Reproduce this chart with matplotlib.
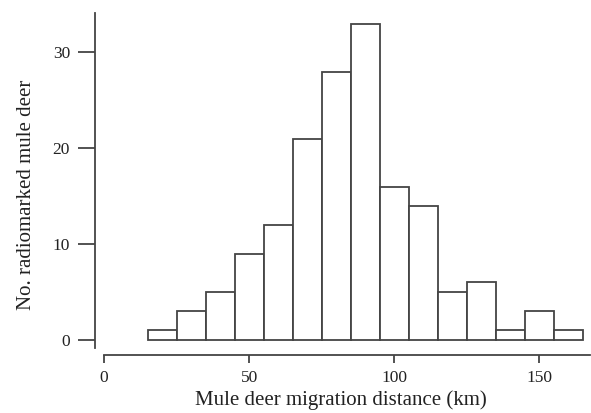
import numpy as np
import matplotlib.pyplot as plt

# histogram of migration distance, 10 km bins
bin_edges = [15, 25, 35, 45, 55, 65, 75, 85, 95, 105, 115, 125, 135, 145, 155, 165]
counts = [1, 3, 5, 9, 12, 21, 28, 33, 16, 14, 5, 6, 1, 3, 1]
x_ticks = [0, 50, 100, 150]
y_ticks = [0, 10, 20, 30]

plt.rcParams['font.family'] = ['Liberation Serif', 'DejaVu Serif']
line_col = '#444444'

fig = plt.figure(figsize=(5.91, 4.13), dpi=100)
W, H = 591, 413
ax = fig.add_axes([104 / W, 1 - 348 / H, (590 - 104) / W, (348 - 13) / H])

widths = np.diff(bin_edges)
ax.bar(bin_edges[:-1], counts, width=widths, align='edge', facecolor='white',
       edgecolor=line_col, linewidth=1.3)

ax.set_xlim(0, 167.5)
ax.set_ylim(-0.83, 34.1)
ax.set_xticks(x_ticks)
ax.set_yticks(y_ticks)

for s in ['top', 'right']:
    ax.spines[s].set_visible(False)
ax.spines['bottom'].set_position(('outward', 5))
ax.spines['left'].set_position(('outward', 6.5))
for s in ['bottom', 'left']:
    ax.spines[s].set_color(line_col)
    ax.spines[s].set_linewidth(1.3)

ax.tick_params(axis='x', length=6, width=1.3, color=line_col, pad=5, labelsize=12.5, labelcolor='#222222')
ax.tick_params(axis='y', length=12, width=1.3, color=line_col, pad=6, labelsize=12.5, labelcolor='#222222')

ax.set_xlabel('Mule deer migration distance (km)', fontsize=15, color='#222222', labelpad=2)
ax.set_ylabel('No. radiomarked mule deer', fontsize=15, color='#222222')
ax.yaxis.set_label_coords(-0.14, 0.457)
ax.xaxis.set_label_coords(0.488, -0.125)

fig.savefig('out.png', dpi=100)
